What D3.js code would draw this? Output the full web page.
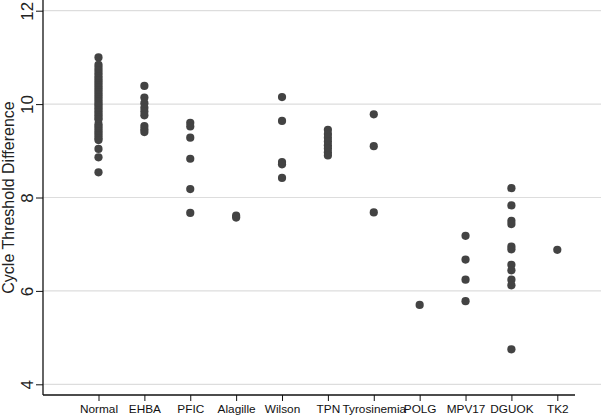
<!DOCTYPE html>
<html>
<head>
<meta charset="utf-8">
<script src="https://cdn.jsdelivr.net/npm/d3@7/dist/d3.min.js"></script>
<style>
  html, body { margin: 0; padding: 0; background: #fff; }
  svg { display: block; font-family: "Liberation Sans", Arial, sans-serif; }
</style>
</head>
<body>
<svg id="chart" width="601" height="418"></svg>
<script>
const categories = ["Normal","EHBA","PFIC","Alagille","Wilson","TPN","Tyrosinemia","POLG","MPV17","DGUOK","TK2"];
const yTicks = [4, 6, 8, 10, 12];

const normalVals = [11.0, 10.84, 10.78, 10.72, 10.66, 10.60, 10.55, 10.50, 10.45, 10.40, 10.35, 10.30, 10.25, 10.20, 10.15, 10.10, 10.05, 10.00, 9.96, 9.91, 9.86, 9.81, 9.76, 9.71, 9.67, 9.57, 9.52, 9.47, 9.42, 9.37, 9.32, 9.27, 9.23, 9.04, 8.86, 8.54];
const ehbaVals = [10.39, 10.14, 10.02, 9.92, 9.84, 9.76, 9.53, 9.46, 9.40];
const pficVals = [9.60, 9.52, 9.28, 8.83, 8.18, 7.67];
const alagilleVals = [7.61, 7.57];
const wilsonVals = [10.15, 9.64, 8.76, 8.71, 8.42];
const tpnVals = [9.45, 9.36, 9.28, 9.20, 9.12, 9.05, 8.97, 8.90];
const tyrosinemiaVals = [9.78, 9.10, 7.68];
const polgVals = [5.70];
const mpv17Vals = [7.18, 6.67, 6.24, 5.78];
const dguokVals = [8.20, 7.83, 7.50, 7.43, 6.95, 6.89, 6.56, 6.44, 6.24, 6.12, 4.75];
const tk2Vals = [6.88];

const seriesVals = [normalVals, ehbaVals, pficVals, alagilleVals, wilsonVals, tpnVals, tyrosinemiaVals, polgVals, mpv17Vals, dguokVals, tk2Vals];
const points = [];
categories.forEach((c, i) => seriesVals[i].forEach(v => points.push({cat: c, value: v})));

const svg = d3.select("#chart");
const axisX = 43, axisY = 395, plotTop = 0, axisRight = 575, gridRight = 601;

const x = d3.scalePoint().domain(categories).range([98.5, 557.3]);
const y = d3.scaleLinear().domain([4, 12]).range([384.3, 10.7]);

// gridlines
svg.append("g").selectAll("line").data(yTicks).join("line")
  .attr("x1", axisX).attr("x2", gridRight)
  .attr("y1", d => y(d)).attr("y2", d => y(d))
  .attr("stroke", "#dddddd").attr("stroke-width", 1.2);

// points
svg.append("g").selectAll("circle").data(points).join("circle")
  .attr("cx", d => x(d.cat)).attr("cy", d => y(d.value))
  .attr("r", 4.1).attr("fill", "#434343");

// y axis
const yAxis = svg.append("g").attr("transform", `translate(${axisX},0)`)
  .call(d3.axisLeft(y).tickValues(yTicks).tickSize(7).tickFormat(d3.format("d")));
yAxis.select(".domain").remove();
yAxis.selectAll(".tick line").attr("stroke", "#111");
yAxis.selectAll(".tick text")
  .attr("transform", "rotate(-90)")
  .attr("x", 0).attr("y", -10).attr("dy", 0)
  .attr("text-anchor", "middle")
  .attr("font-size", 17).attr("fill", "#222")
  .attr("font-family", "Liberation Sans, Arial, sans-serif");
svg.append("line").attr("x1", axisX).attr("x2", axisX).attr("y1", plotTop).attr("y2", axisY)
  .attr("stroke", "#111").attr("stroke-width", 1.3);

// x axis
const xAxis = svg.append("g").attr("transform", `translate(0,${axisY})`)
  .call(d3.axisBottom(x).tickSize(6).tickPadding(4));
xAxis.select(".domain").remove();
xAxis.selectAll(".tick line").attr("stroke", "#111");
xAxis.selectAll(".tick text").attr("font-size", 11.8).attr("fill", "#111")
  .attr("font-family", "Liberation Sans, Arial, sans-serif");
svg.append("line").attr("x1", axisX).attr("x2", axisRight).attr("y1", axisY).attr("y2", axisY)
  .attr("stroke", "#111").attr("stroke-width", 1.3);

// y title
svg.append("text")
  .attr("transform", `translate(14,${(plotTop + axisY) / 2}) rotate(-90)`)
  .attr("text-anchor", "middle")
  .attr("font-size", 16).attr("fill", "#222")
  .text("Cycle Threshold Difference");
</script>
</body>
</html>
